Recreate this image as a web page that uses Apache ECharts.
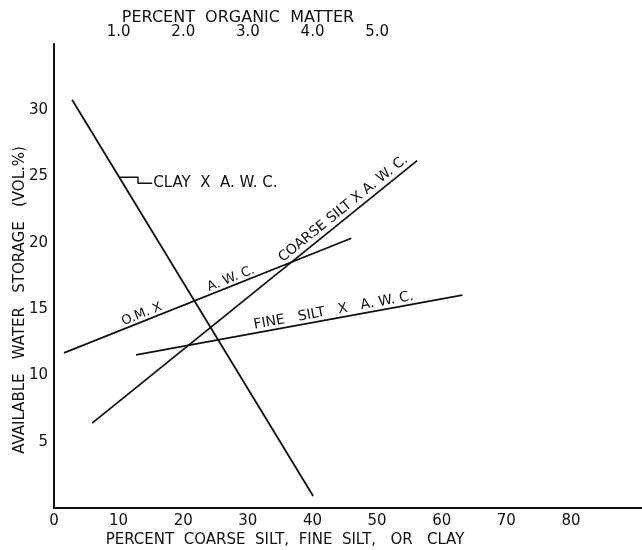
<!DOCTYPE html>
<html>
<head>
<meta charset="utf-8">
<script src="https://cdn.jsdelivr.net/npm/echarts@6/dist/echarts.min.js"></script>
<style>html,body{margin:0;padding:0;background:#fff}#c{width:642px;height:550px}</style>
</head>
<body>
<div id="c"></div>
<script>
// ---- data (axis units) ----
const clayX = [2.8, 40.1];
const clayY = [30.8, 0.9];
const coarseX = [5.9, 56.2];
const coarseY = [6.4, 26.2];
const omX = [0.155, 4.6];      // percent organic matter (top axis)
const omY = [11.7, 20.35];
const fineX = [12.7, 63.2];
const fineY = [11.55, 16.05];
const leaderX = [10.2, 13.0, 13.0, 15.2];
const leaderY = [24.95, 24.95, 24.5, 24.5];
const bottomTicks = [0, 10, 20, 30, 40, 50, 60, 70, 80];
const topTicks = [1, 2, 3, 4, 5];
const leftTicks = [5, 10, 15, 20, 25, 30];

const pairs = (xs, ys) => xs.map((x, i) => [x, ys[i]]);
const FONT = '"DejaVu Sans", sans-serif';
const INK = '#111';

const chart = echarts.init(document.getElementById('c'), null, {renderer: 'canvas'});
const lineStyle = {color: INK, width: 1.8};
const option = {
  animation: false,
  backgroundColor: '#fff',
  grid: [
    {left: 54, top: 44, right: 0, bottom: 42},
    {left: 54, top: 44, width: 446, bottom: 42}
  ],
  xAxis: [
    {type: 'value', gridIndex: 0, min: 0, max: 91, interval: 10, position: 'bottom',
     axisLine: {lineStyle: {color: INK, width: 2}}, axisTick: {show: false}, splitLine: {show: false},
     axisLabel: {color: INK, fontFamily: FONT, fontSize: 15, margin: 6, showMaxLabel: false,
       formatter: v => bottomTicks.includes(v) ? String(v) : ''}},
    {type: 'value', gridIndex: 1, min: 0, max: 6.9, interval: 1, position: 'top',
     axisLine: {lineStyle: {color: INK, width: 2}}, axisTick: {show: false}, splitLine: {show: false},
     axisLabel: {color: INK, fontFamily: FONT, fontSize: 15, margin: 4, showMaxLabel: false,
       formatter: v => topTicks.includes(v) ? v.toFixed(1) : ''}}
  ],
  yAxis: [
    {type: 'value', gridIndex: 0, min: 0, max: 35, interval: 5,
     axisLine: {show: true, lineStyle: {color: INK, width: 2}}, axisTick: {show: false}, splitLine: {show: false},
     axisLabel: {color: INK, fontFamily: FONT, fontSize: 15, margin: 6,
       formatter: v => leftTicks.includes(v) ? String(v) : ''}},
    {type: 'value', gridIndex: 1, min: 0, max: 35, interval: 5, show: false}
  ],
  series: [
    {type: 'line', xAxisIndex: 0, yAxisIndex: 0, data: pairs(clayX, clayY), symbol: 'none', lineStyle},
    {type: 'line', xAxisIndex: 0, yAxisIndex: 0, data: pairs(coarseX, coarseY), symbol: 'none', lineStyle},
    {type: 'line', xAxisIndex: 1, yAxisIndex: 1, data: pairs(omX, omY), symbol: 'none', lineStyle},
    {type: 'line', xAxisIndex: 0, yAxisIndex: 0, data: pairs(fineX, fineY), symbol: 'none', lineStyle},
    {type: 'line', xAxisIndex: 0, yAxisIndex: 0, data: pairs(leaderX, leaderY), symbol: 'none', lineStyle: {color: INK, width: 1.5}}
  ]
};
chart.setOption(option);

// ---- text annotations placed along the lines ----
function px(grid, x, y) { return chart.convertToPixel({gridIndex: grid}, [x, y]); }
function along(grid, xs, ys, t, off) {
  const a = px(grid, xs[0], ys[0]), b = px(grid, xs[1], ys[1]);
  const dx = b[0] - a[0], dy = b[1] - a[1];
  const L = Math.hypot(dx, dy);
  const ux = dx / L, uy = dy / L;
  const nx = uy, ny = -ux;
  return {x: a[0] + dx * t + nx * off, y: a[1] + dy * t + ny * off, rot: Math.atan2(-dy, dx)};
}
function txt(text, p, size, align) {
  return {type: 'text', x: p.x, y: p.y, rotation: p.rot || 0,
    style: {text, x: 0, y: 0, fill: INK, font: size + 'px ' + FONT, align: align || 'center', verticalAlign: 'middle'}};
}
const lp = px(0, leaderX[3], leaderY[3]);
const graphics = [
  txt('PERCENT  ORGANIC  MATTER', {x: 238, y: 18}, 16),
  txt('PERCENT  COARSE  SILT,  FINE  SILT,   OR   CLAY', {x: 285, y: 540}, 15),
  txt('AVAILABLE   WATER   STORAGE   (VOL.%)', {x: 20, y: 300, rot: Math.PI / 2}, 15),
  txt('CLAY  X  A. W. C.', {x: lp[0] + 1, y: lp[1]}, 15, 'left'),
  txt('COARSE SILT X A. W. C.', along(0, coarseX, coarseY, 0.79, 9), 14),
  txt('O.M. X', along(1, omX, omY, 0.28, 7), 13),
  txt('A. W. C.', along(1, omX, omY, 0.59, 7), 13),
  txt('FINE   SILT   X   A. W. C.', along(0, fineX, fineY, 0.61, 8), 14)
];
chart.setOption({graphic: graphics});
</script>
</body>
</html>
